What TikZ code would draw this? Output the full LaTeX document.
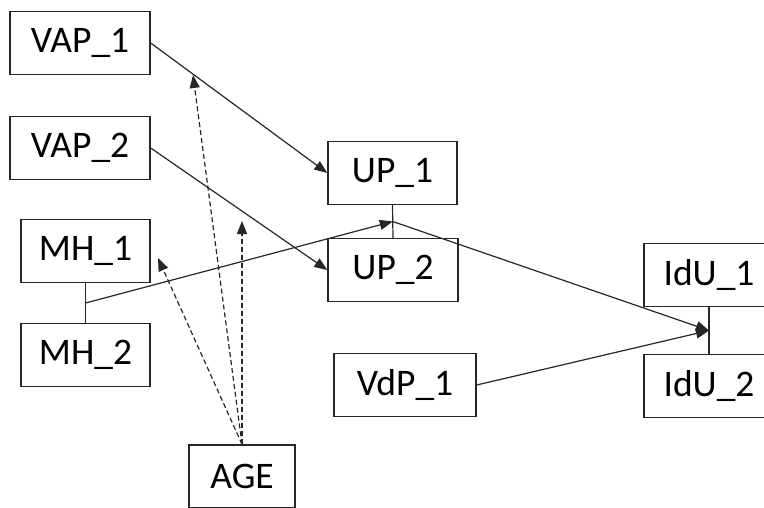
\documentclass[tikz,border=0pt]{standalone}
\usepackage{fontspec}
\setmainfont{Carlito}
\usetikzlibrary{arrows.meta,calc}
\begin{document}
\begin{tikzpicture}[x=1pt,y=-1pt,
  box/.style={draw=black!85,line width=1.4pt,rectangle,inner sep=0pt,
    minimum width=#1,minimum height=63pt,font=\fontsize{37.5}{42}\selectfont},
  box/.default=140pt,
  link/.style={draw=black!85,line width=1.2pt},
  path/.style={link,-{Triangle[length=13pt,width=10pt]}},
  agepath/.style={path,dash pattern=on 5pt off 3pt}]
\useasboundingbox (0,0) rectangle (764,507);
\clip (0,0) rectangle (764,507);
% variables
\node[box=140pt] (VAP1) at (80,43) {VAP\_1};
\node[box=140pt] (VAP2) at (80,148) {VAP\_2};
\node[box=129pt] (MH1) at (85.5,251) {MH\_1};
\node[box=129pt] (MH2) at (85.5,355) {MH\_2};
\node[box=129pt] (UP1) at (392.5,173) {UP\_1};
\node[box=130pt] (UP2) at (393,270) {UP\_2};
\node[box=142pt] (VdP1) at (405,385) {VdP\_1};
\node[box=130pt] (IdU1) at (709,275) {IdU\_1};
\node[box=130pt] (IdU2) at (709,386) {IdU\_2};
\node[box=106pt] (AGE) at (242,476.5) {AGE};
% joins between paired variables
\draw[link] (MH1.south) -- (MH2.north);
\draw[link] (UP1.south) -- (UP2.north);
\draw[link] (IdU1.south) -- (IdU2.north);
\coordinate (MHj) at ($(MH1.south)!0.5!(MH2.north)$);
\coordinate (UPj) at ($(UP1.south)!0.5!(UP2.north)$);
\coordinate (IdUj) at ($(IdU1.south)!0.5!(IdU2.north)$);
% moderation targets
\coordinate (m1) at (193,75);
\coordinate (m2) at (242,221);
\coordinate (m3) at (158,258);
% direct paths
\draw[path] (VAP1.east) -- (UP1.west);
\draw[path] (VAP2.east) -- (UP2.west);
\draw[path] (MHj) -- (UPj);
\draw[path] (UPj) -- (IdUj);
\draw[path] (VdP1.east) -- (IdUj);
% moderating paths from AGE
\draw[agepath] (AGE.north) -- (m1);
\draw[agepath] (AGE.north) -- (m2);
\draw[agepath] (AGE.north) -- (m3);
\end{tikzpicture}
\end{document}
